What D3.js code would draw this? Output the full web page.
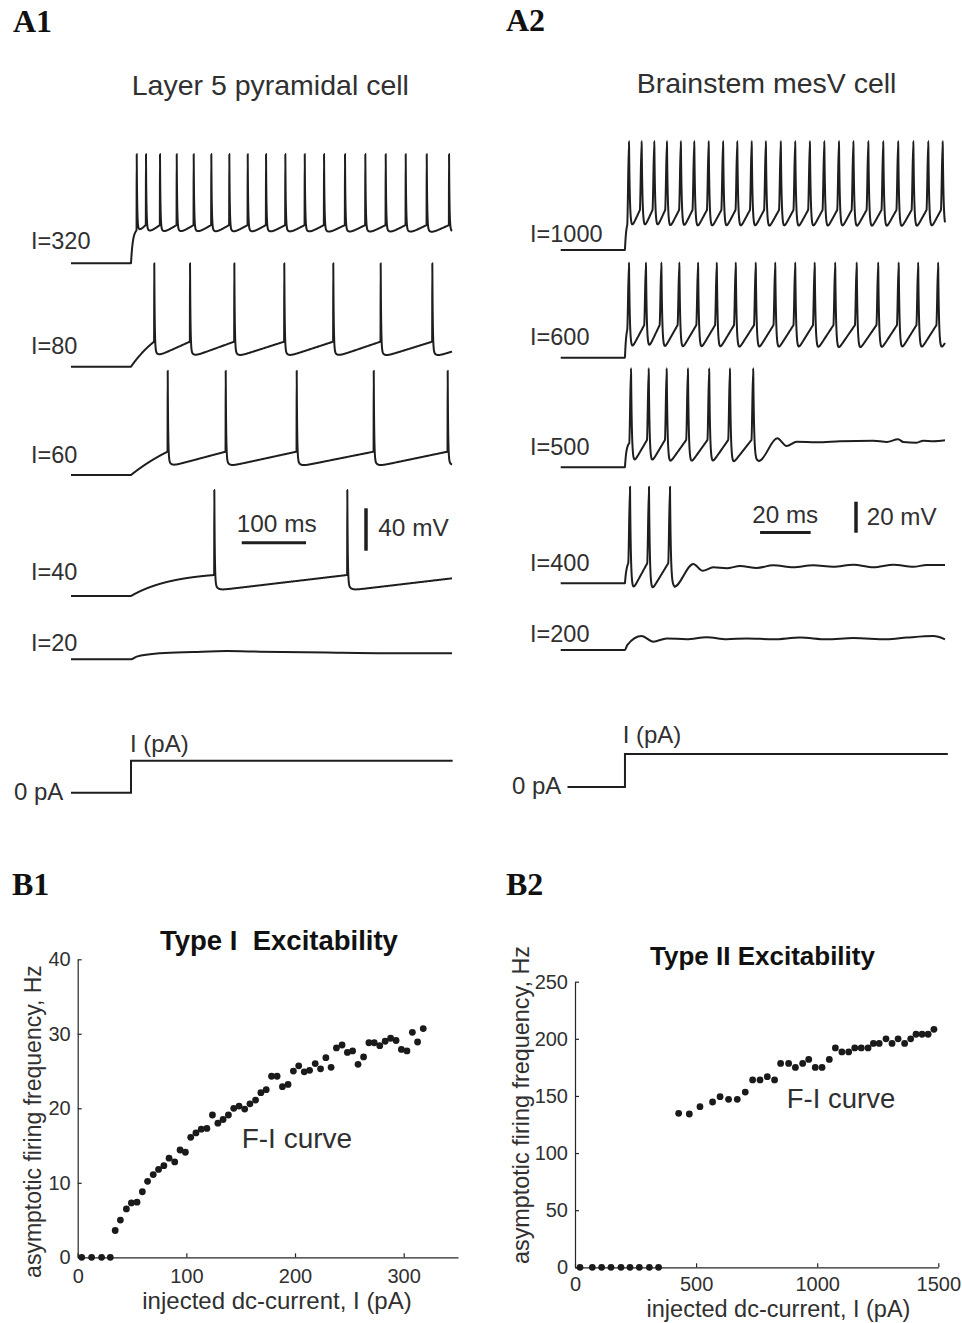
<!DOCTYPE html>
<html><head><meta charset="utf-8">
<script src="https://cdn.jsdelivr.net/npm/d3@7"></script>
<style>
body{margin:0;background:#fff}
</style>
</head><body>
<svg id="fig" width="962" height="1323"></svg>
<script>
// ================= DATA =================
// ---- Panel A1: layer 5 pyramidal cell (time in ms, voltage in mV relative to rest)
const a1Labels = ["I=320","I=80","I=60","I=40","I=20"];
const a1Step = 93.3, a1End = 592.5;
const a1Spikes = [
  [102.2,116.6,138.4,164.4,190.8,218.2,246.2,274.8,303.3,333.3,363.5,393.5,426.1,457.7,489.4,520.5,553.2,587.9],
  [129.5,185.1,254.0,331.7,407.9,481.6,561.9],
  [150.4,240.6,351.0,470.8,585.8],
  [222.9,429.7],
  []
];
const a1Peak   = [103, 97.5, 98.4, 100, 0];
const a1Trough = [26.5, 8.5, 7.5, 5, 0];
const a1Thresh = [36, 23.6, 22, 19.8, 0];
const a1First  = [31, 23.6, 22, 19.8, 0];
const a1RiseTau= [3, 60, 120, 65, 1];
const a1Tail = [null,null,null,null,
  [[102.1,2.5],[138.4,5.7],[190.3,6.9],[242.1,7.8],[294,7.2],[397.7,6.3],[501.2,5.7],[592.5,5.7]]];

// ---- Panel A2: brainstem mesV cell
const a2Labels = ["I=1000","I=600","I=500","I=400","I=200"];
const a2Step = 25.4, a2End = 151.9;
const a2Spikes = [
  [27.0,32.0,37.0,42.0,47.5,52.8,58.5,64.2,69.8,75.5,81.1,87.0,92.7,98.5,104.2,110.0,115.7,121.6,127.5,133.4,139.4,145.3,151.0],
  [27.0,33.7,39.8,46.9,54.3,61.7,69.2,77.1,84.8,92.7,100.4,108.5,117.0,125.5,133.6,141.3,149.2],
  [27.8,34.8,41.9,50.3,58.7,66.9,76.1],
  [27.4,34.9,43.2],
  []
];
const a2Peak   = [70.3, 61.5, 63.9, 62.3, 0];
const a2Trough = [10.5, 2.5, 0, -7.5, 0];
const a2Thresh = [25.8, 21, 17.6, 12.9, 0];
const a2First  = [16, 17.9, 15.5, 12.9, 0];
const a2RiseTau= [0.5, 0.5, 0.6, 0.7, 1];
const a2Tail = [null, null,
  [[78.4,4.1],[85.6,18.7],[89.3,13.7],[93.3,16.5],[101.2,16.1],[110.4,16.8],[123.6,17.2],[128.9,16.3],[133.4,18.1],[135.4,16.3],[140.7,15.9],[143.3,17.2],[147.3,16.8],[151.9,17.4]],
  [[44.9,-2.2],[52.4,12.5],[56.1,8.1],[60.3,10.3],[65.6,9.7],[70.9,11.2],[77.5,9.9],[84,11.6],[91.9,10.3],[99.8,11.6],[107.7,10.7],[115.7,12],[123.6,10.3],[131.5,12],[139.4,10.7],[144.7,11.8],[151.9,11.8]],
  [[26.3,3.2],[32,9],[36.6,5.4],[41.9,7.5],[49.8,6.9],[57.7,8.2],[65.6,6.9],[73.5,7.5],[84,6.9],[94.6,8],[105.1,6.9],[115.7,7.7],[128.9,6.9],[136.8,8],[147.3,9],[151.9,6.9]]
];

// ---- Panel B1: Type I F-I curve
const b1Current = [3.7,12.8,22,30,34.5,39.3,44.8,49.4,54.6,59.5,64.3,69.5,74.4,79.3,84.1,89.3,94.2,99.1,104,108.8,113.7,118.9,124,129,133.8,138.7,143.6,148.5,153.7,158.5,163.7,168.6,173.5,178.4,183.5,188.4,193.6,198.5,203.4,208.5,213.4,218.6,223.5,228.4,233.2,238.1,243.3,248.2,253,258,263.1,268,272.9,278,283,288,293,297.9,303,308,312.8,318];
const b1Freq = [0,0,0,0,3.6,5.0,6.5,7.3,7.4,8.8,10.2,11.1,11.8,12.3,13.3,12.8,14.4,14.1,16.1,16.7,17.2,17.3,19.1,18.0,18.5,19.1,20.0,20.3,19.9,20.6,21.1,22.1,22.5,24.3,24.3,22.9,23.2,25.0,25.7,24.9,25.1,26.0,25.3,26.8,25.5,28.1,28.5,27.5,27.7,25.9,26.9,28.8,28.8,28.4,29.0,29.4,29.1,27.9,27.7,30.2,28.9,30.7];
const b1XTicks = [0,100,200,300];
const b1YTicks = [0,10,20,30,40];

// ---- Panel B2: Type II F-I curve
const b2Current = [20.6,71.6,110,148.6,190,227,265.6,307,345,428,472,516,568,599,634,670,703,733.5,764,794,824,849,882,910,940,965,992,1020,1050,1075,1102,1130,1155,1182,1210,1232,1256,1284,1309,1334,1361,1386,1408,1433,1458,1482];
const b2Freq = [0,0,0,0,0,0,0,0,0,134.8,134.2,140.6,144.7,149.4,147,147,153.4,164,164,166.9,164,178.5,178.5,175,178.5,182,175,175,182,192,188.5,188.5,192,192,192,196,196,200,196,200,196,200,204,204,204,208.3];
const b2XTicks = [0,500,1000,1500];
const b2YTicks = [0,50,100,150,200,250];

// ================= DRAWING =================
const svg = d3.select("#fig");
const INK = "#1e1e1e", TXT = "#303030", AX = "#262626";
const FONT = '"Liberation Sans", Arial, Helvetica, sans-serif';
const SERIF = '"Liberation Serif", "Times New Roman", serif';

function txt(x, y, s, size, o = {}) {
  const t = svg.append("text").attr("x", x).attr("y", y).text(s)
    .style("font-size", size + "px").style("fill", o.fill || TXT)
    .style("font-family", o.family || FONT)
    .style("font-weight", o.weight || "normal")
    .attr("text-anchor", o.anchor || "start")
    .style("white-space", "pre");
  if (o.rotate) t.attr("transform", `rotate(${o.rotate},${x},${y})`);
  return t;
}

// generate membrane trace from spike times and levels
function buildTrace(o) {
  const pts = [[0, 0], [o.tStep, 0]];
  const sp = o.spikes;
  if (!sp.length) { o.tail.forEach(p => pts.push(p)); return pts; }
  const s0 = sp[0], T = s0 - o.rise - o.tStep;
  const norm = 1 - Math.exp(-T / o.tauRise);
  for (let t = o.tStep + o.dtFine; t < s0 - o.rise - 1e-6; t += o.dtFine)
    pts.push([t, o.thr0 * (1 - Math.exp(-(t - o.tStep) / o.tauRise)) / norm]);
  pts.push([s0 - o.rise, o.thr0]);
  for (let i = 0; i < sp.length; i++) {
    const s = sp[i];
    pts.push([s, o.peak]);
    const last = i === sp.length - 1;
    if (last && o.tail) {
      const t1 = o.tail[0][0], v1 = o.tail[0][1];
      for (let t = s + o.dtFine; t < t1 - 1e-6; t += o.dtFine)
        pts.push([t, v1 + (o.peak - v1) * Math.exp(-(t - s) / o.tauF)]);
      o.tail.forEach(p => pts.push(p));
      break;
    }
    const nxt = last ? s + (sp.length > 1 ? s - sp[i - 1] : 200) : sp[i + 1];
    const rampEnd = nxt - o.rise;
    const segEnd = last ? Math.min(rampEnd, o.tEnd) : rampEnd;
    const span = rampEnd - s;
    const fast = o.peak - o.trough - o.slowAmp;
    const f = t => {
      const u = (t - s) / span;
      return o.trough + (o.thr - o.trough) * u + fast * Math.exp(-(t - s) / o.tauF) + o.slowAmp * Math.exp(-(t - s) / o.tauS);
    };
    let t = s;
    while (true) {
      t += (t - s < o.fineWin) ? o.dtFine : o.dtCoarse;
      if (t >= segEnd - 1e-6) break;
      pts.push([t, f(t)]);
    }
    pts.push([segEnd, f(segEnd)]);
  }
  return pts;
}

// ---------- Panel labels & titles ----------
txt(13, 31.7, "A1", 32, {family: SERIF, weight: "bold", fill: "#111"});
txt(506, 31, "A2", 32, {family: SERIF, weight: "bold", fill: "#111"});
txt(12, 895, "B1", 32, {family: SERIF, weight: "bold", fill: "#111"});
txt(506, 895, "B2", 32, {family: SERIF, weight: "bold", fill: "#111"});
txt(131.7, 95, "Layer 5 pyramidal cell", 28.5);
txt(636.7, 92.7, "Brainstem mesV cell", 28.5);

// ---------- A1 traces ----------
const a1RestY = [263.3, 366.7, 475, 596, 659.3];
const a1PxPerMV = 1.06;
const a1x = d3.scaleLinear().domain([0, a1End]).range([71, 452]);
const a1LabelY = [249.3, 354.3, 463.3, 580, 651];
a1Labels.forEach((lab, i) => {
  const yv = d3.scaleLinear().domain([0, 100]).range([a1RestY[i], a1RestY[i] - 100 * a1PxPerMV]);
  const pts = buildTrace({
    spikes: a1Spikes[i], peak: a1Peak[i], trough: a1Trough[i], thr: a1Thresh[i], thr0: a1First[i],
    tStep: a1Step, tEnd: a1End, tauRise: a1RiseTau[i], tauF: 0.7, slowAmp: 8, tauS: 4,
    rise: 0.3, dtFine: 0.1, dtCoarse: 1, fineWin: 14, tail: a1Tail[i]
  });
  svg.append("path").attr("d", d3.line().x(d => a1x(d[0])).y(d => yv(d[1])).curve(d3.curveMonotoneX)(pts))
    .attr("fill", "none").attr("stroke", INK).attr("stroke-width", 2).attr("stroke-linejoin", "round");
  txt(31, a1LabelY[i], lab, 23.5);
});

// ---------- A2 traces ----------
const a2RestY = [250, 357.7, 467.3, 583.3, 650];
const a2PxPerMV = 1.55;
const a2x = d3.scaleLinear().domain([0, a2End]).range([560.7, 945]);
const a2LabelY = [241.7, 345, 455, 570.7, 641.7];
a2Labels.forEach((lab, i) => {
  const yv = d3.scaleLinear().domain([0, 100]).range([a2RestY[i], a2RestY[i] - 100 * a2PxPerMV]);
  const pts = buildTrace({
    spikes: a2Spikes[i], peak: a2Peak[i], trough: a2Trough[i], thr: a2Thresh[i], thr0: a2First[i],
    tStep: a2Step, tEnd: a2End, tauRise: a2RiseTau[i], tauF: 0.35, slowAmp: 0, tauS: 1,
    rise: 0.7, dtFine: 0.05, dtCoarse: 0.2, fineWin: 3, tail: a2Tail[i]
  });
  svg.append("path").attr("d", d3.line().x(d => a2x(d[0])).y(d => yv(d[1])).curve(d3.curveMonotoneX)(pts))
    .attr("fill", "none").attr("stroke", INK).attr("stroke-width", 2).attr("stroke-linejoin", "round");
  txt(530, a2LabelY[i], lab, 23.5);
});

// ---------- scale bars ----------
function hbar(x0, x1, y) { svg.append("line").attr("x1", x0).attr("x2", x1).attr("y1", y).attr("y2", y).attr("stroke", INK).attr("stroke-width", 3); }
function vbar(x, y0, y1) { svg.append("line").attr("x1", x).attr("x2", x).attr("y1", y0).attr("y2", y1).attr("stroke", INK).attr("stroke-width", 3.5); }
hbar(a1x(265.5), a1x(365.5), 542.7);
vbar(366, 550.7, 550.7 - 40 * a1PxPerMV);
txt(236.7, 531.7, "100 ms", 24.4);
txt(378.3, 536, "40 mV", 24.4);
hbar(a2x(78.8), a2x(98.8), 532.5);
vbar(856, 532.7, 532.7 - 20 * a2PxPerMV);
txt(752.3, 523.3, "20 ms", 24.2);
txt(866.7, 525, "20 mV", 24.2);

// ---------- current steps ----------
const iy1 = d3.scaleLinear().domain([0, 1]).range([792.7, 760.7]);
const iy2 = d3.scaleLinear().domain([0, 1]).range([787, 754]);
const stepPts1 = [[0, 0], [a1Step, 0], [a1Step, 1], [a1End + 1, 1]];
const stepPts2 = [[2.7, 0], [a2Step, 0], [a2Step, 1], [153, 1]];
svg.append("path").attr("d", d3.line().x(d => a1x(d[0])).y(d => iy1(d[1]))(stepPts1))
  .attr("fill", "none").attr("stroke", INK).attr("stroke-width", 2);
svg.append("path").attr("d", d3.line().x(d => a2x(d[0])).y(d => iy2(d[1]))(stepPts2))
  .attr("fill", "none").attr("stroke", INK).attr("stroke-width", 2);
txt(14, 800, "0 pA", 24);
txt(130, 752.3, "I (pA)", 24);
txt(512, 793.6, "0 pA", 24);
txt(622.7, 742.6, "I (pA)", 24);

// ---------- B panels ----------
function scatterPanel(o) {
  const x = d3.scaleLinear().domain(o.xDom).range(o.xRange);
  const y = d3.scaleLinear().domain(o.yDom).range(o.yRange);
  const gx = svg.append("g").attr("transform", `translate(0,${o.yRange[0]})`)
    .call(d3.axisBottom(x).tickValues(o.xTicks).tickFormat(d3.format("d")).tickSizeInner(-4).tickSizeOuter(0).tickPadding(o.xPad));
  const gy = svg.append("g").attr("transform", `translate(${o.xRange[0]},0)`)
    .call(d3.axisLeft(y).tickValues(o.yTicks).tickFormat(d3.format("d")).tickSizeInner(-4).tickSizeOuter(0).tickPadding(o.yPad));
  [gx, gy].forEach(g => {
    g.style("color", AX);
    g.selectAll("path,line").attr("stroke-width", 1.2);
    g.selectAll("text").style("fill", TXT).style("font-size", "20px").style("font-family", FONT);
  });
  svg.append("g").selectAll("circle").data(o.xs.map((v, i) => [v, o.ys[i]])).join("circle")
    .attr("cx", d => x(d[0])).attr("cy", d => y(d[1])).attr("r", 3.4).attr("fill", "#1a1a1a");
}
scatterPanel({xDom: [0, 350], xRange: [77.7, 458], yDom: [0, 40], yRange: [1257.3, 959.3],
  xTicks: b1XTicks, yTicks: b1YTicks, xPad: 12, yPad: 7, xs: b1Current, ys: b1Freq});
scatterPanel({xDom: [0, 1500], xRange: [575, 938.3], yDom: [0, 250], yRange: [1267.3, 981.7],
  xTicks: b2XTicks, yTicks: b2YTicks, xPad: 10, yPad: 7, xs: b2Current, ys: b2Freq});

txt(160, 950, "Type I  Excitability", 27.5, {weight: "bold", fill: "#111"});
txt(650, 965, "Type II Excitability", 26, {weight: "bold", fill: "#111"});
txt(277, 1309, "injected dc-current, I (pA)", 24, {anchor: "middle"});
txt(778.5, 1317, "injected dc-current, I (pA)", 23.5, {anchor: "middle"});
txt(41, 1121.5, "asymptotic firing frequency, Hz", 23, {anchor: "middle", rotate: -90});
txt(529, 1105, "asymptotic firing frequency, Hz", 23.4, {anchor: "middle", rotate: -90});
txt(241.7, 1148.3, "F-I curve", 28);
txt(786.7, 1108.3, "F-I curve", 27.5);
</script>
</body></html>
